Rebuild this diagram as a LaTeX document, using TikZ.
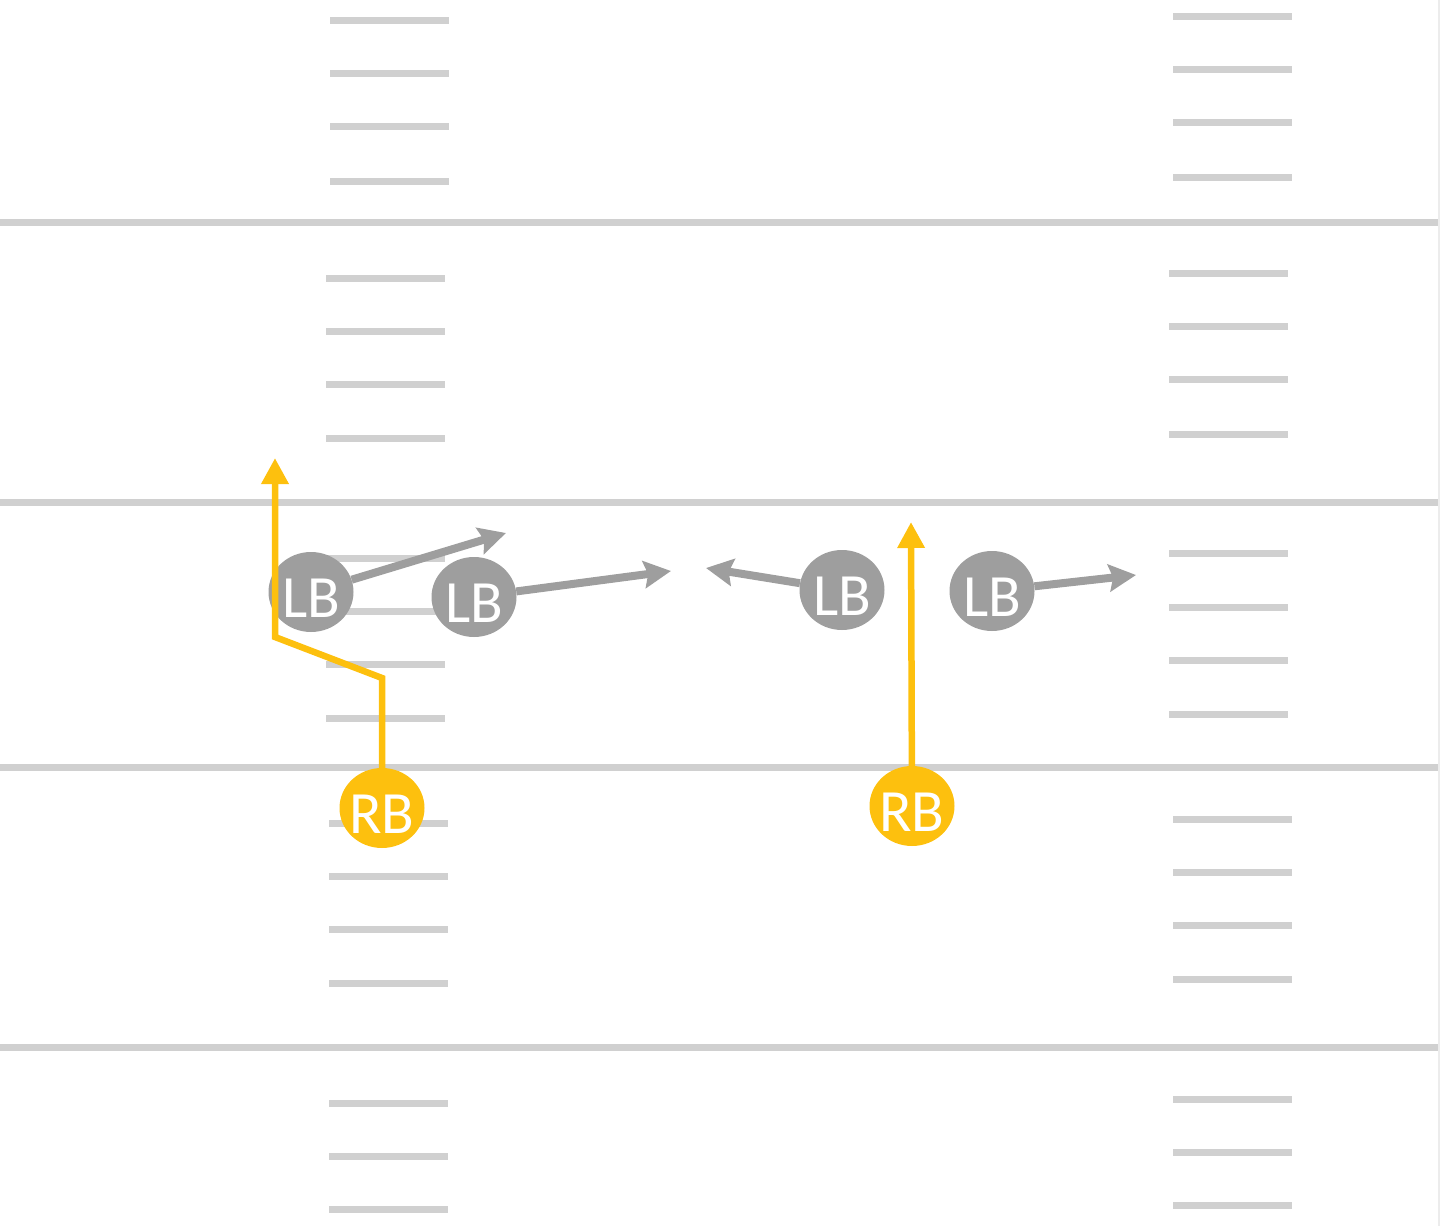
\documentclass[tikz,border=0pt]{standalone}
\usepackage{fontspec}
\setmainfont{Carlito}
\usetikzlibrary{shapes.geometric,arrows.meta}
\definecolor{fieldgray}{HTML}{D0D0D0}
\definecolor{lbgray}{HTML}{9E9E9E}
\definecolor{rbyellow}{HTML}{FDC00E}
\tikzset{
  yardline/.style={fieldgray, line width=7pt},
  hashmark/.style={fieldgray, line width=7pt},
  player/.style={ellipse, minimum width=85pt, minimum height=80pt, inner sep=-6pt,
    text=white, font=\fontsize{60}{64}\selectfont, text height=50pt, text depth=0pt},
  lb/.style={player, fill=lbgray},
  rb/.style={player, fill=rbyellow},
  lbarrow/.style={lbgray, line width=8pt, -{Stealth[length=27pt,width=27pt,inset=4pt]}},
  rbarrow/.style={rbyellow, line width=6.5pt, -{Triangle[length=26pt,width=26pt]}}
}
\begin{document}
\begin{tikzpicture}[x=1pt,y=-1pt]
    \useasboundingbox (0,0) rectangle (1440,1226);

    \draw[gray!15, line width=1.5pt] (1439,0) -- (1439,1226);
    \foreach \y in {222,502,767,1047}
        \draw[yardline] (0,\y) -- (1438,\y);

    \foreach \y/\x in {20/330,73/330,126/330,181/330,278/326,331/326,384/326,438/326,
        558/326,611/326,664/326,718/326,823/329,876/329,929/329,983/329,1103/329,1156/329,1209/329}
        \draw[hashmark] (\x,\y) -- ++(119,0);
    \foreach \y/\x in {16/1173,69/1173,122/1173,177/1173,273/1169,326/1169,379/1169,434/1169,
        553/1169,607/1169,660/1169,714/1169,819/1173,872/1173,925/1173,979/1173,1099/1173,1152/1173,1205/1173}
        \draw[hashmark] (\x,\y) -- ++(119,0);

    \node[lb] (lb1) at (311,592) {LB};
    \node[lb] (lb2) at (474,597) {LB};
    \node[lb] (lb3) at (842,590) {LB};
    \node[lb] (lb4) at (992,591) {LB};
    \node[rb] (rb1) at (382,808) {RB};
    \node[rb] (rb2) at (912,806) {RB};

    \coordinate (lb1tip) at (506,533);
    \coordinate (lb2tip) at (671,571);
    \coordinate (lb3tip) at (706,568);
    \coordinate (lb4tip) at (1136,575);
    \coordinate (rb1bend) at (382,678);
    \coordinate (rb1cut) at (275,637);
    \coordinate (rb1tip) at (275,458);
    \coordinate (rb2tip) at (911,522);

    \draw[lbarrow] (lb1) -- (lb1tip);
    \draw[lbarrow] (lb2) -- (lb2tip);
    \draw[lbarrow] (lb3) -- (lb3tip);
    \draw[lbarrow] (lb4) -- (lb4tip);

    \draw[rbarrow] (rb1) -- (rb1bend) -- (rb1cut) -- (rb1tip);
    \draw[rbarrow] (rb2) -- (rb2tip);
\end{tikzpicture}
\end{document}
